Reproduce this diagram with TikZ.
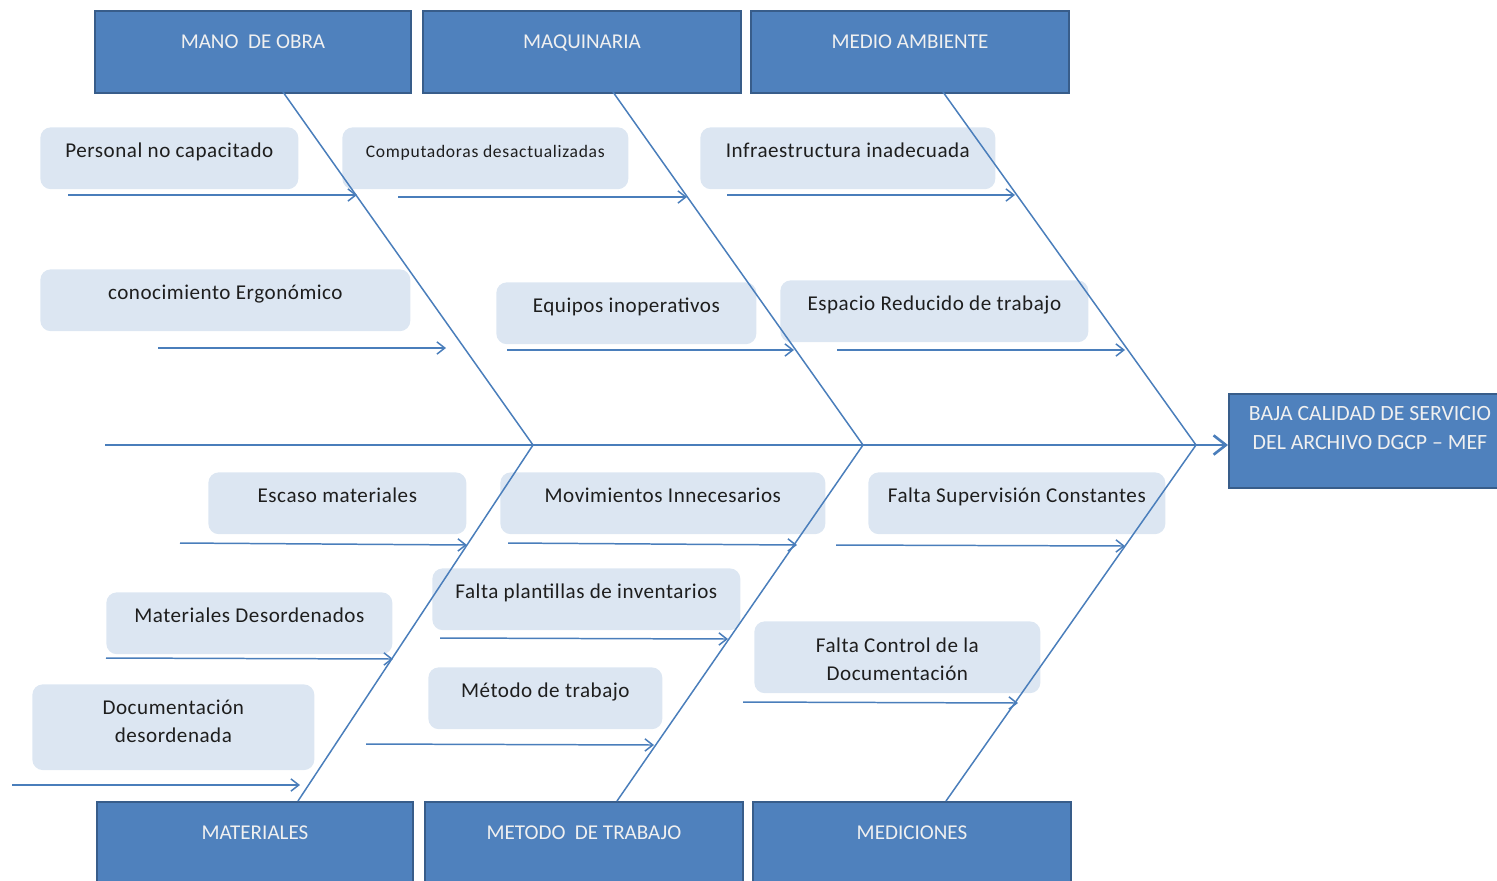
\documentclass[tikz,border=0pt]{standalone}
\usepackage{fontspec}
\setmainfont{Carlito}
\newfontfamily\spacedfont[LetterSpace=2.5]{Carlito}
\newfontfamily\widefont[LetterSpace=4]{Carlito}
\usetikzlibrary{arrows.meta, positioning}
\definecolor{boxblue}{RGB}{79,129,189}
\definecolor{boxedge}{RGB}{56,93,138}
\definecolor{causefill}{RGB}{220,230,242}
\definecolor{bonecol}{RGB}{74,126,187}
\definecolor{textgray}{RGB}{30,30,30}

\begin{document}
\begin{tikzpicture}[x=0.02cm, y=-0.02cm,
  category/.style={draw=boxedge, line width=1.1pt, fill=boxblue, text=white!94!black,
    anchor=north west, inner ysep=5pt, text height=16.4pt, text depth=20.1pt,
    minimum width=#1*0.02cm, font=\fontsize{12}{14}\selectfont},
  effect/.style={draw=boxedge, line width=1.1pt, fill=boxblue, text=white!94!black,
    anchor=north west, align=center, inner ysep=4pt, text height=27.7pt, text depth=17.6pt,
    minimum width=282*0.02cm, font=\fontsize{12.4}{16.4}\selectfont},
  cause/.style={fill=causefill, rounded corners=6pt, anchor=north west, inner ysep=7pt,
    text height=10pt, text depth=11.2pt, text=textgray, minimum width=#1*0.02cm,
    font=\spacedfont\fontsize{12}{16.4}\selectfont},
  bone/.style={draw=bonecol, line width=0.85pt},
  subarrow/.style={draw=bonecol, line width=0.85pt, -{Straight Barb[length=4.5pt, width=7pt]}},
  spine/.style={draw=bonecol, line width=1.5pt, -{Straight Barb[length=7pt, width=11pt]}}
]
\useasboundingbox (0,0) rectangle (1497,880);
\clip (0,0) rectangle (1497,880);

% Categories
\node[category=316] (mano) at (94,10) {MANO\ \ DE OBRA};
\node[category=318] (maquinaria) at (422,10) {MAQUINARIA};
\node[category=318] (ambiente) at (750,10) {MEDIO AMBIENTE};
\node[category=316] (materiales) at (96,801) {MATERIALES};
\node[category=318] (metodo) at (424,801) {METODO\ \ DE TRABAJO};
\node[category=318] (mediciones) at (752,801) {MEDICIONES};

% Effect
\node[effect] (efecto) at (1228,393) {BAJA CALIDAD DE SERVICIO\\DEL ARCHIVO DGCP -- MEF};

% Causes
\node[cause=258] (personal) at (40,127) {Personal no capacitado};
\node[cause=286, font=\widefont\fontsize{10}{12}\selectfont] (computadoras) at (342,127) {Computadoras desactualizadas};
\node[cause=295] (infra) at (700,127) {Infraestructura inadecuada};
\node[cause=370] (ergonomico) at (40,269) {conocimiento Ergonómico};
\node[cause=260] (equipos) at (496,282) {Equipos inoperativos};
\node[cause=308] (espacio) at (780,280) {Espacio Reducido de trabajo};
\node[cause=258] (escaso) at (208,472) {Escaso materiales};
\node[cause=325] (movimientos) at (500,472) {Movimientos Innecesarios};
\node[cause=297] (supervision) at (868,472) {Falta Supervisión Constantes};
\node[cause=308] (plantillas) at (432,568) {Falta plantillas de inventarios};
\node[cause=286] (desordenados) at (106,592) {Materiales Desordenados};
\node[cause=286, align=center, text height=26.9pt, text depth=0pt] (control) at (754,621) {Falta Control de la\\Documentación};
\node[cause=234] (metodotrabajo) at (428,667) {Método de trabajo};
\node[cause=282, align=center, text height=26.3pt, text depth=8.5pt] (documentacion) at (32,684) {Documentación\\desordenada};

% Spine and bones
\coordinate (cola) at (105,445);
\coordinate (j1) at (533,445);
\coordinate (j2) at (863,445);
\coordinate (j3) at (1196,445);
\coordinate (t1) at (283,92);
\coordinate (t2) at (613,92);
\coordinate (t3) at (943,92);
\coordinate (b1) at (298,801);
\coordinate (b2) at (617,801);
\coordinate (b3) at (946,801);
\draw[spine] (cola) -- (cola -| efecto.west);
\foreach \i in {1,2,3} {
  \draw[bone] (t\i) -- (j\i);
  \draw[bone] (b\i) -- (j\i);
}

% Arrows into the bones
\foreach \n/\xa/\ya/\xb/\yb in {1/68/195/357/195, 2/398/197/687/197, 3/727/195/1015/195,
    4/158/348/446/348, 5/507/350/794/350, 6/837/350/1125/350,
    7/180/543/467/545, 8/508/543/797/545, 9/836/545/1125/546,
    10/440/638/728/639, 11/106/658/393/659, 12/743/702/1018/703,
    13/366/744/654/745, 14/12/785/300/785} {
  \coordinate (a\n) at (\xa,\ya);
  \coordinate (z\n) at (\xb,\yb);
  \draw[subarrow] (a\n) -- (z\n);
}
\end{tikzpicture}
\end{document}
